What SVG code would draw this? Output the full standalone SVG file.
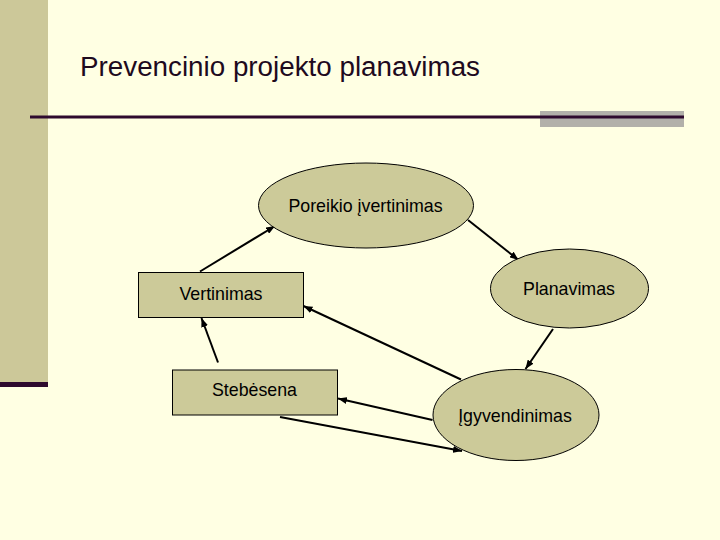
<svg xmlns="http://www.w3.org/2000/svg" width="720" height="540" viewBox="0 0 720 540">
  <defs>
    <marker id="arrow" markerUnits="userSpaceOnUse" markerWidth="9" markerHeight="7" refX="9" refY="3.5" orient="auto">
      <path d="M0,0 L9,3.5 L0,7 z" fill="#000"/>
    </marker>
    <style>
      .node { fill: #CCCA99; stroke: #000; stroke-width: 1; }
      .label { font-family: "Liberation Sans", Arial, sans-serif; font-size: 17.8px; fill: #000; text-anchor: middle; }
      .conn { stroke: #000; stroke-width: 2; fill: none; marker-end: url(#arrow); }
    </style>
  </defs>
  <rect x="0" y="0" width="720" height="540" fill="#FFFFE3"/>
  <rect x="0" y="0" width="48" height="382" fill="#CCC899"/>
  <rect x="0" y="382" width="48" height="5" fill="#2E0A2E"/>
  <rect x="540" y="111" width="144" height="16" fill="#B2B0AA"/>
  <rect x="30" y="115.5" width="654" height="3" fill="#2E0A2E"/>
  <text x="80" y="76" font-family="Liberation Sans, Arial, sans-serif" font-size="27" fill="#1E0A1E" textLength="400" lengthAdjust="spacingAndGlyphs">Prevencinio projekto planavimas</text>

  <g id="connectors">
    <line class="conn" x1="200" y1="271.5" x2="275" y2="226"/>
    <line class="conn" x1="468" y1="220" x2="518.5" y2="260"/>
    <line class="conn" x1="553" y1="329" x2="525.5" y2="369"/>
    <line class="conn" x1="461" y1="379.5" x2="303.5" y2="306"/>
    <line class="conn" x1="218" y1="362.5" x2="201.5" y2="318"/>
    <line class="conn" x1="432.5" y1="420" x2="338" y2="398.5"/>
    <line class="conn" x1="280" y1="417" x2="462" y2="451"/>
  </g>

  <g id="poreikio">
    <ellipse class="node" cx="366" cy="205.5" rx="107.5" ry="42.5"/>
    <text class="label" x="365.5" y="211.5">Poreikio įvertinimas</text>
  </g>
  <g id="planavimas">
    <ellipse class="node" cx="569.5" cy="288.5" rx="79" ry="39.5"/>
    <text class="label" x="569" y="295">Planavimas</text>
  </g>
  <g id="igyvendinimas">
    <ellipse class="node" cx="516" cy="415" rx="83" ry="45.5"/>
    <text class="label" x="515" y="421.5">Įgyvendinimas</text>
  </g>
  <g id="vertinimas">
    <rect class="node" x="138.5" y="272.5" width="165" height="45"/>
    <text class="label" x="221" y="299.5">Vertinimas</text>
  </g>
  <g id="stebesena">
    <rect class="node" x="172.5" y="370" width="165" height="45"/>
    <text class="label" x="254.5" y="395.5">Stebėsena</text>
  </g>
</svg>
